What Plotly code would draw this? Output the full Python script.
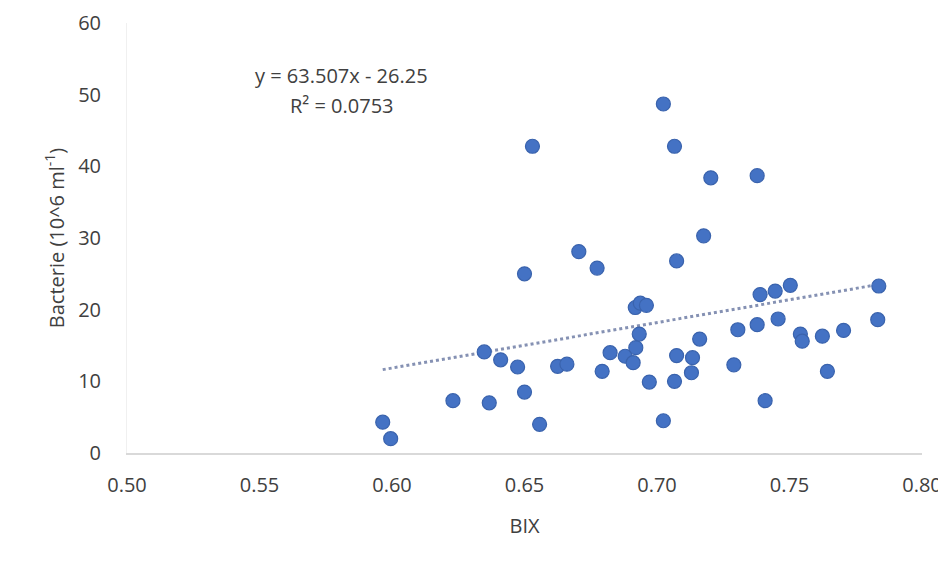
import plotly.graph_objects as go

bix = [0.5965, 0.5995, 0.623, 0.6367, 0.6348, 0.641, 0.6474, 0.650, 0.650, 0.653,
       0.6557, 0.6625, 0.666, 0.6705, 0.6774, 0.6793, 0.6823, 0.688, 0.691, 0.692,
       0.6918, 0.6933, 0.6937, 0.696, 0.6971, 0.7024, 0.7024, 0.7066, 0.7066, 0.7074,
       0.7074, 0.713, 0.7134, 0.7161, 0.7176, 0.7203, 0.729, 0.7305, 0.7378, 0.7378,
       0.7389, 0.7408, 0.7446, 0.7457, 0.7503, 0.7541, 0.7548, 0.7624, 0.7643, 0.7704,
       0.7837, 0.7833]
bacterie = [4.3, 2.0, 7.3, 7.0, 14.1, 13.0, 12.0, 8.5, 25.0, 42.8,
            4.0, 12.1, 12.4, 28.1, 25.8, 11.4, 14.0, 13.5, 12.6, 14.7,
            20.3, 16.6, 20.9, 20.6, 9.9, 48.7, 4.5, 42.8, 10.0, 13.6,
            26.8, 11.2, 13.3, 15.9, 30.3, 38.4, 12.3, 17.2, 38.7, 17.9,
            22.1, 7.3, 22.6, 18.7, 23.4, 16.6, 15.6, 16.3, 11.4, 17.1,
            23.3, 18.6]

slope = 63.507
intercept = -26.25
r2 = 0.0753

x_ticks = [0.50, 0.55, 0.60, 0.65, 0.70, 0.75, 0.80]
y_ticks = [0, 10, 20, 30, 40, 50, 60]

trend_x = [min(bix), max(bix)]
trend_y = [slope * v + intercept for v in trend_x]

font_family = "Open Sans, Noto Sans, sans-serif"
text_color = "#404040"

fig = go.Figure()
fig.add_trace(go.Scatter(
    x=trend_x, y=trend_y, mode="lines",
    line=dict(color="#8591b3", width=3, dash="dot"),
    hoverinfo="skip", showlegend=False,
))
fig.add_trace(go.Scatter(
    x=bix, y=bacterie, mode="markers",
    marker=dict(color="#4472C4", size=14, line=dict(color="#3a63ad", width=1.2)),
    showlegend=False,
))

fig.add_annotation(x=0.5811, y=52.7, xref="x", yref="y",
                   text=f"y = {slope}x - {abs(intercept)}", showarrow=False,
                   font=dict(size=20, color=text_color, family=font_family))
fig.add_annotation(x=0.5811, y=48.5, xref="x", yref="y",
                   text=f"R² = {r2}", showarrow=False,
                   font=dict(size=20, color=text_color, family=font_family))

fig.update_layout(
    width=938, height=540,
    margin=dict(l=119, r=24, t=15, b=95, autoexpand=False),
    paper_bgcolor="white", plot_bgcolor="white",
    font=dict(family=font_family, size=20, color=text_color),
    xaxis=dict(
        range=[0.50, 0.80], tickvals=x_ticks, tickformat=".2f",
        showgrid=False, zeroline=False, automargin=False,
        showline=True, linecolor="#d9d9d9", linewidth=1.5,
        ticks="", ticklabelstandoff=13,
        title=dict(text="BIX", standoff=22, font=dict(size=20)),
    ),
    yaxis=dict(
        range=[0, 60], tickvals=y_ticks,
        showgrid=False, zeroline=False, automargin=False,
        showline=True, linecolor="#f0f0f0", linewidth=1,
        ticks="", ticklabelstandoff=21,
        title=dict(text="Bacterie (10^6 ml<sup>-1</sup>)", standoff=8, font=dict(size=20)),
    ),
)

fig.write_html(
    "out.html",
    post_script="document.documentElement.style.overflow='hidden';"
                "document.body.style.overflow='hidden';"
                "var s=document.querySelectorAll('.main-svg');"
                "for(var i=0;i<s.length;i++){s[i].style.overflow='visible';}",
)
